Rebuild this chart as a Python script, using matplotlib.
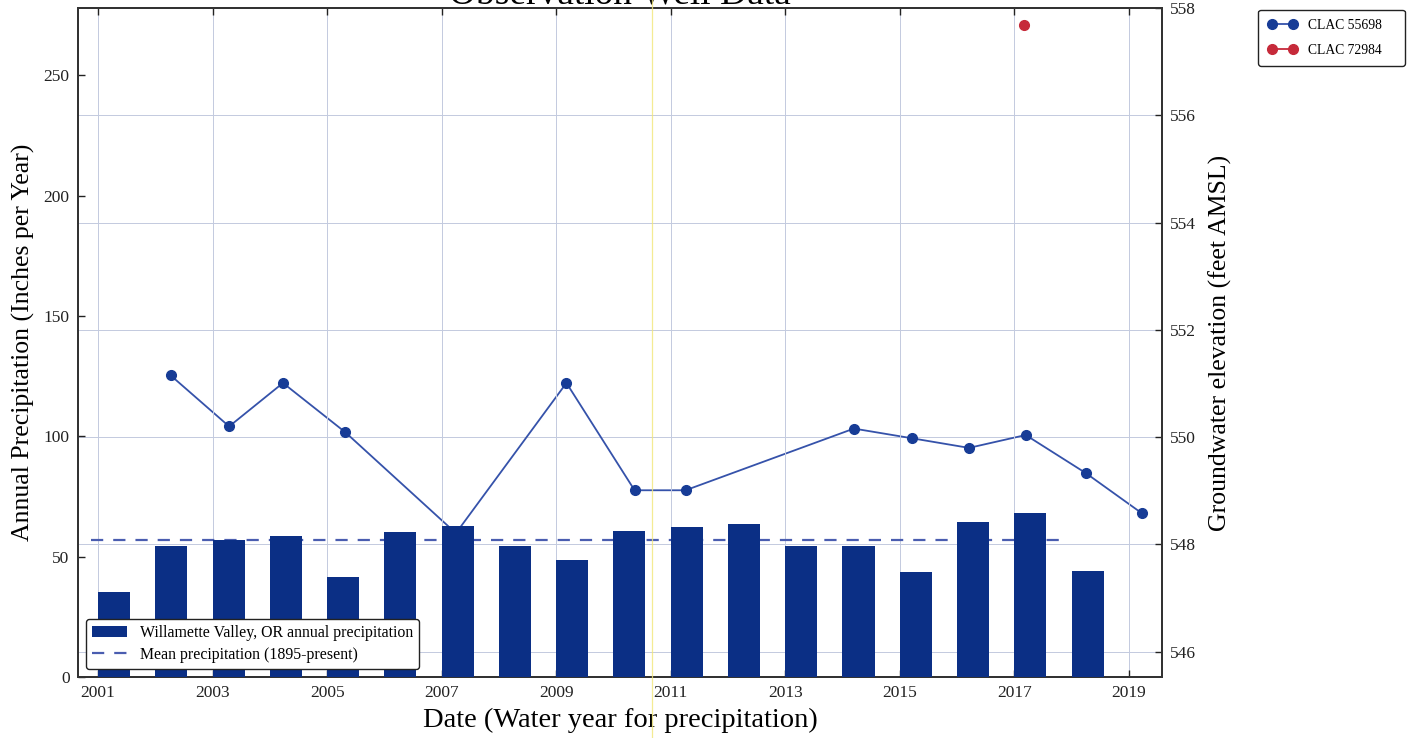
"""
Willamette Valley precipitation with CLAC observation well levels
"""
import numpy as np
import matplotlib
matplotlib.use('Agg')
import matplotlib.pyplot as plt
from matplotlib.lines import Line2D

plt.rcParams['font.family'] = ['Liberation Serif', 'DejaVu Serif']

# annual precipitation, water years 2001-2018 (inches)
precip_years = np.arange(2001, 2019)
precip = [35.4, 54.5, 57.0, 58.6, 41.7, 60.4, 62.9, 54.6, 48.8,
          60.8, 62.2, 63.6, 54.5, 54.5, 43.8, 64.4, 68.2, 43.9]

# long-term mean, drawn across the record
mean_years = [2000.88, 2017.85]
mean_precip = 56.8

# groundwater elevations (feet AMSL), decimal year of measurement
clac55698_dates = [2002.27, 2003.29, 2004.23, 2005.32, 2007.25, 2009.18, 2010.37,
                   2011.26, 2014.20, 2015.21, 2016.21, 2017.20, 2018.25, 2019.23]
clac55698_elev = [551.15, 550.20, 551.01, 550.09, 548.21, 551.01, 549.01,
                  549.01, 550.16, 549.98, 549.80, 550.04, 549.33, 548.58]

clac72984_dates = [2017.17]
clac72984_elev = [557.68]

bar_color = '#0b2f85'
line_color = '#3552aa'
marker_color = '#173c96'
red = '#c62a3a'
grid_color = '#c3cadf'

fig = plt.figure(figsize=(14.15, 7.38), dpi=100)
ax1 = fig.add_axes([0.0551, 0.0827, 0.7661, 0.9065])
ax2 = ax1.twinx()

# bars in front of the well hydrograph
ax1.set_zorder(ax2.get_zorder() + 1)
ax1.patch.set_visible(False)

bars = ax1.bar(precip_years, precip, width=0.56, align='edge', color=bar_color,
               edgecolor=bar_color, linewidth=0, zorder=3,
               label='Willamette Valley, OR annual precipitation')
mean_line, = ax1.plot(mean_years, [mean_precip, mean_precip], color='#4a5db0',
                      lw=1.6, dashes=(5.5, 4.5), zorder=2,
                      label='Mean precipitation (1895-present)')

ax2.plot(clac55698_dates, clac55698_elev, '-o', color=line_color, lw=1.3,
         markersize=7, markerfacecolor=marker_color, markeredgecolor=marker_color,
         label='CLAC 55698')
ax2.plot(clac72984_dates, clac72984_elev, '-o', color=red, lw=1.3,
         markersize=7, markerfacecolor=red, markeredgecolor=red,
         label='CLAC 72984')

ax1.set_xlim(2000.65, 2019.58)
ax1.set_ylim(0, 278)
ax2.set_ylim(545.53, 558)

ax1.set_xticks(np.arange(2001, 2020, 2))
ax1.set_xticklabels([str(y) for y in range(2001, 2020, 2)])
ax1.set_yticks(np.arange(0, 251, 50))
ax2.set_yticks(np.arange(546, 559, 2))

ax1.grid(axis='x', color=grid_color, lw=0.7)
ax2.grid(axis='y', color=grid_color, lw=0.7)
ax1.set_axisbelow(True)
ax2.set_axisbelow(True)

ax1.tick_params(axis='both', direction='in', length=5, width=1, labelsize=12.5,
                top=True, pad=6, colors='#222222')
ax2.tick_params(axis='y', direction='in', length=5, width=1, labelsize=12.5,
                pad=6, colors='#222222')

for ax in (ax1, ax2):
    for sp in ax.spines.values():
        sp.set_linewidth(1.4)
        sp.set_color('#333333')

ax1.set_xlabel('Date (Water year for precipitation)', fontsize=20.5, labelpad=5)
ax1.set_ylabel('Annual Precipitation (Inches per Year)', fontsize=18.5, labelpad=6)
ax2.set_ylabel('Groundwater elevation (feet AMSL)', fontsize=18.5, labelpad=9)
# title sits right on the top edge of the sheet
ax1.set_title('Observation Well Data', fontsize=27, y=1.006, pad=0)

leg1 = ax1.legend([bars, mean_line],
                  ['Willamette Valley, OR annual precipitation',
                   'Mean precipitation (1895-present)'],
                  loc='lower left', fontsize=11.4, fancybox=True,
                  framealpha=1, edgecolor='#222222', handlelength=2.2,
                  borderaxespad=0.5, borderpad=0.4, labelspacing=0.35)
leg1.get_frame().set_linewidth(1.0)

h, l = ax2.get_legend_handles_labels()
leg2 = fig.legend(h, l, loc='upper left', mode='expand',
                  bbox_to_anchor=(0.889, 0.872, 0.104, 0.115),
                  fontsize=9.8, numpoints=2, fancybox=True, framealpha=1,
                  edgecolor='#222222', handlelength=2.2, borderaxespad=0,
                  borderpad=0.7, labelspacing=0.85)
leg2.get_frame().set_linewidth(1.0)

# faint yellow streak across the sheet
fig.add_artist(Line2D([0.4608, 0.4608], [0, 1], transform=fig.transFigure,
                      color='#f2e678', lw=0.9, alpha=0.8))

plt.savefig('out.png', dpi=100)
